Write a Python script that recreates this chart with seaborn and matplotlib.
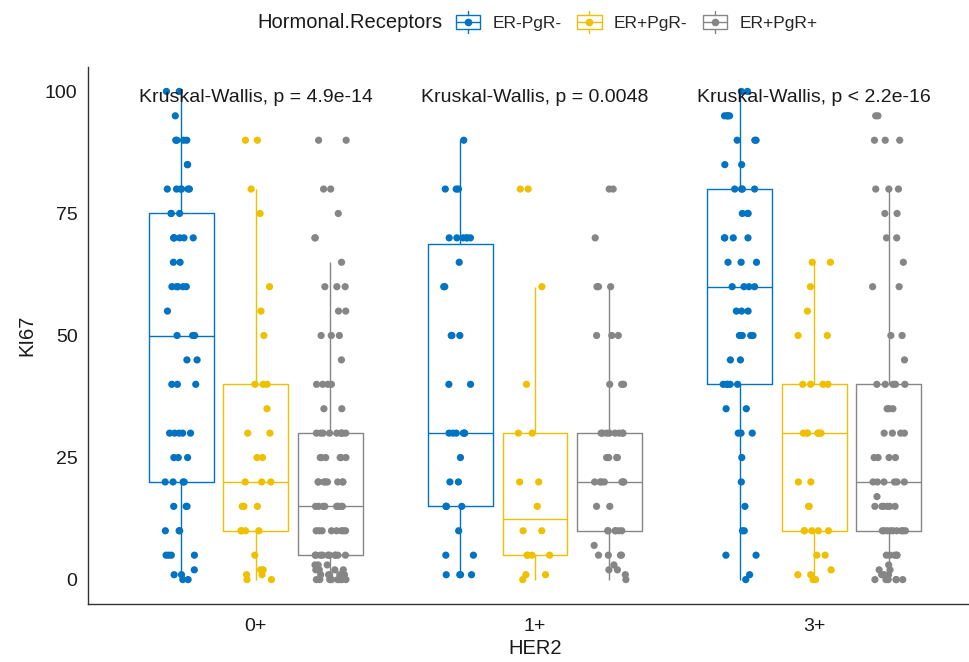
import numpy as np
import pandas as pd
import matplotlib
matplotlib.use("Agg")
import matplotlib.pyplot as plt
import seaborn as sns
from matplotlib.legend_handler import HandlerBase
from matplotlib.patches import Rectangle
from matplotlib.lines import Line2D

# ---------------- data ----------------
her2_levels = ["0+", "1+", "3+"]
hr_levels = ["ER-PgR-", "ER+PgR-", "ER+PgR+"]
palette = ["#0073C2", "#EFC000", "#868686"]

# HER2 0+
v_0_neg = [0, 1, 2, 5, 10, 15, 20, 25, 30, 40, 45, 50, 55, 60, 65, 70, 75, 80, 85, 90, 95, 100]
n_0_neg = [2, 2, 1, 4, 3, 3, 4, 3, 5, 3, 2, 3, 1, 5, 2, 6, 3, 6, 2, 4, 1, 2]
v_0_ep = [0, 1, 2, 5, 10, 15, 20, 25, 30, 35, 40, 50, 55, 60, 75, 80, 90]
n_0_ep = [2, 2, 2, 1, 4, 4, 3, 2, 2, 1, 3, 1, 1, 1, 1, 1, 2]
v_0_pp = [0, 1, 2, 3, 5, 10, 15, 20, 25, 30, 35, 40, 45, 50, 55, 60, 65, 70, 75, 80, 90]
n_0_pp = [8, 5, 4, 3, 10, 8, 9, 8, 6, 9, 2, 4, 1, 3, 2, 3, 1, 2, 1, 2, 2]
# HER2 1+
v_1_neg = [1, 5, 10, 15, 20, 25, 30, 40, 50, 60, 65, 70, 80, 90]
n_1_neg = [4, 2, 1, 4, 2, 1, 6, 2, 3, 2, 1, 6, 3, 1]
v_1_ep = [0, 1, 5, 10, 15, 20, 30, 40, 60, 80]
n_1_ep = [1, 2, 4, 2, 1, 2, 2, 1, 1, 2]
v_1_pp = [0, 1, 2, 3, 5, 7, 10, 15, 20, 25, 30, 40, 50, 60, 70, 80]
n_1_pp = [1, 1, 2, 1, 4, 1, 6, 2, 7, 4, 8, 3, 3, 3, 1, 2]
# HER2 3+
v_3_neg = [0, 1, 5, 10, 15, 20, 25, 30, 35, 40, 45, 50, 55, 60, 65, 70, 75, 80, 85, 90, 95, 100]
n_3_neg = [1, 1, 2, 2, 1, 1, 1, 3, 2, 5, 2, 4, 3, 4, 3, 4, 3, 4, 2, 3, 4, 2]
v_3_ep = [0, 1, 2, 5, 10, 15, 20, 30, 40, 50, 55, 60, 65]
n_3_ep = [2, 2, 1, 2, 5, 2, 2, 7, 4, 2, 1, 1, 2]
v_3_pp = [0, 1, 2, 3, 5, 10, 15, 17, 20, 25, 30, 35, 40, 45, 50, 60, 65, 70, 75, 80, 90, 95]
n_3_pp = [6, 3, 2, 1, 5, 9, 6, 1, 6, 4, 4, 3, 5, 1, 2, 2, 1, 2, 2, 3, 3, 2]

pvalue_labels = ["Kruskal-Wallis, p = 4.9e-14",
                 "Kruskal-Wallis, p = 0.0048",
                 "Kruskal-Wallis, p < 2.2e-16"]

groups = [
    ("0+", "ER-PgR-", v_0_neg, n_0_neg), ("0+", "ER+PgR-", v_0_ep, n_0_ep), ("0+", "ER+PgR+", v_0_pp, n_0_pp),
    ("1+", "ER-PgR-", v_1_neg, n_1_neg), ("1+", "ER+PgR-", v_1_ep, n_1_ep), ("1+", "ER+PgR+", v_1_pp, n_1_pp),
    ("3+", "ER-PgR-", v_3_neg, n_3_neg), ("3+", "ER+PgR-", v_3_ep, n_3_ep), ("3+", "ER+PgR+", v_3_pp, n_3_pp),
]
rows = []
for her2, hr, vals, cnts in groups:
    for v, c in zip(vals, cnts):
        rows += [(her2, hr, v)] * c
df = pd.DataFrame(rows, columns=["HER2", "Hormonal.Receptors", "KI67"])

# ---------------- plot ----------------
sns.set_style("white")
plt.rcParams["font.family"] = ["Liberation Sans", "DejaVu Sans"]
np.random.seed(3)

fig = plt.figure(figsize=(9.7, 6.62), dpi=100)
ax = fig.add_axes([88 / 970, 58 / 662, 894 / 970, 537 / 662])

sns.boxplot(data=df, x="HER2", y="KI67", hue="Hormonal.Receptors",
            order=her2_levels, hue_order=hr_levels, palette=palette,
            fill=False, showfliers=False, showcaps=False, width=0.8, gap=0.13,
            linewidth=1.0, whis=1.5, legend=False, ax=ax)
sns.stripplot(data=df, x="HER2", y="KI67", hue="Hormonal.Receptors",
              order=her2_levels, hue_order=hr_levels, palette=palette,
              dodge=True, jitter=0.18, size=5.2, linewidth=0, legend=False,
              zorder=3, ax=ax)

for i, lab in enumerate(pvalue_labels):
    ax.text(i, 98.8, lab, ha="center", va="center", fontsize=14,
            color="#1a1a1a", zorder=5)

ax.set_xlim(-0.6, 2.6)
ax.set_ylim(-5, 105)
ax.set_yticks([0, 25, 50, 75, 100])
ax.set_xlabel("HER2", fontsize=14.5, color="#1a1a1a", labelpad=3)
ax.set_ylabel("KI67", fontsize=14.5, color="#1a1a1a", labelpad=6)
ax.tick_params(axis="both", labelsize=14, colors="#333333", labelcolor="#1a1a1a",
               length=4, width=0.9, direction="out")
ax.tick_params(axis="x", pad=6)
sns.despine(ax=ax)
for s in ["left", "bottom"]:
    ax.spines[s].set_color("#333333")
    ax.spines[s].set_linewidth(1.0)


class BoxKeyHandler(HandlerBase):
    def create_artists(self, legend, orig_handle, xdescent, ydescent,
                       width, height, fontsize, trans):
        c = orig_handle.get_color()
        x0, y0 = -xdescent, -ydescent
        cx, cy = x0 + width / 2, y0 + height / 2
        bw, bh = width * 0.95, height * 0.62
        rect = Rectangle((cx - bw / 2, cy - bh / 2), bw, bh, fill=False,
                         edgecolor=c, lw=1.0, transform=trans)
        top = Line2D([cx, cx], [cy + bh / 2, y0 + height], color=c, lw=1.0, transform=trans)
        bot = Line2D([cx, cx], [y0, cy - bh / 2], color=c, lw=1.0, transform=trans)
        med = Line2D([cx - bw / 2, cx + bw / 2], [cy, cy], color=c, lw=1.0, transform=trans)
        dot = Line2D([cx], [cy], marker="o", markersize=4.5, color=c, lw=0, transform=trans)
        return [rect, top, bot, med, dot]


handles = [Line2D([], [], color=c) for c in palette]
fig.text(443 / 970, 1 - 22 / 662, "Hormonal.Receptors", ha="right", va="center",
         fontsize=14.5, color="#1a1a1a")
fig.legend(handles, hr_levels, handler_map={Line2D: BoxKeyHandler()},
           loc="center left", bbox_to_anchor=(455 / 970, 1 - 22 / 662),
           ncol=3, frameon=False, fontsize=12.5, handlelength=1.5,
           handleheight=1.5, handletextpad=0.65, columnspacing=0.85,
           borderpad=0, borderaxespad=0)

fig.savefig("out.png", dpi=100)
